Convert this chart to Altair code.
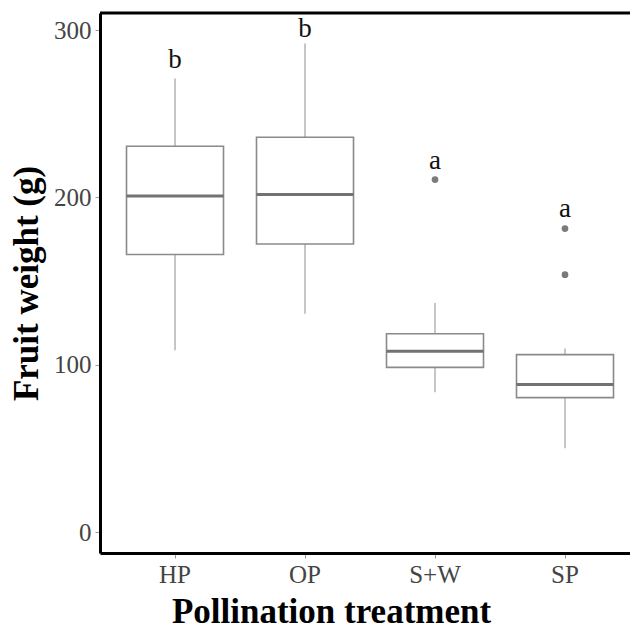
import altair as alt
import pandas as pd

treatments = ["HP", "OP", "S+W", "SP"]
whisker_low = [108.7, 130.6, 83.7, 50.2]
q1 = [165.9, 172.2, 98.5, 80.4]
median = [200.9, 201.8, 108.2, 88.3]
q3 = [230.6, 236.0, 118.6, 106.1]
whisker_high = [271.1, 292.0, 137.0, 109.7]

outlier_group = ["S+W", "SP", "SP"]
outlier_value = [210.7, 181.4, 153.9]

letters = ["b", "b", "a", "a"]
letter_y = [282.0, 300.5, 222.0, 193.0]

box = pd.DataFrame({
    "treatment": treatments, "lo": whisker_low, "q1": q1, "med": median,
    "q3": q3, "hi": whisker_high, "letter": letters, "ly": letter_y,
})
outl = pd.DataFrame({"treatment": outlier_group, "v": outlier_value})

FONT = "Liberation Serif"
W, H = 530, 540

x = alt.X("treatment:N", sort=treatments,
          scale=alt.Scale(paddingInner=0, paddingOuter=0.0385, align=1),
          axis=alt.Axis(title="Pollination treatment", labelAngle=0,
                        labelFont=FONT, labelFontSize=25, labelColor="#444444",
                        titleFont=FONT, titleFontSize=35, titleFontWeight="bold",
                        titleColor="black", titlePadding=7, labelPadding=4,
                        titleX=231, titleAlign="center",
                        tickSize=5, tickColor="#999999", domain=True,
                        domainColor="black", domainWidth=3))
yscale = alt.Scale(domain=[-12.4, 310.2], nice=False, zero=False)
yaxis = alt.Axis(title="Fruit weight (g)", values=[0, 100, 200, 300],
                 labelFont=FONT, labelFontSize=25, labelColor="#444444",
                 titleFont=FONT, titleFontSize=35, titleFontWeight="bold",
                 titleColor="black", titlePadding=9, labelPadding=4,
                 tickSize=5, tickColor="#999999", grid=False, domain=True,
                 domainColor="black", domainWidth=3)

base = alt.Chart(box)

whisk = base.mark_rule(color="#a0a0a0", strokeWidth=1.2).encode(
    x=x, y=alt.Y("lo:Q", scale=yscale, axis=yaxis), y2="hi:Q")
bars = base.mark_bar(size=97, fill="white", stroke="#8a8a8a", strokeWidth=1.6).encode(
    x=x, y=alt.Y("q1:Q", scale=yscale), y2="q3:Q")
med = base.mark_tick(size=97, thickness=3, color="#727272", opacity=1).encode(
    x=x, y=alt.Y("med:Q", scale=yscale))
pts = alt.Chart(outl).mark_circle(size=45, color="#7a7a7a", opacity=1).encode(
    x=x, y=alt.Y("v:Q", scale=yscale))
txt = base.mark_text(font=FONT, fontSize=27, color="#111111", baseline="middle").encode(
    x=x, y=alt.Y("ly:Q", scale=yscale), text="letter:N")
top = alt.Chart(pd.DataFrame({"a": [0]})).mark_rule(color="black", strokeWidth=3).encode(
    x=alt.value(0), x2=alt.value(W), y=alt.value(0))

chart = alt.layer(whisk, bars, med, pts, txt, top).properties(
    width=W, height=H,
    autosize=alt.AutoSizeParams(type="none"),
    padding={"left": 92, "top": 5, "right": 0, "bottom": 77},
).configure_view(stroke=None)

chart.save("out.html", embed_options={"renderer": "svg", "actions": False})
